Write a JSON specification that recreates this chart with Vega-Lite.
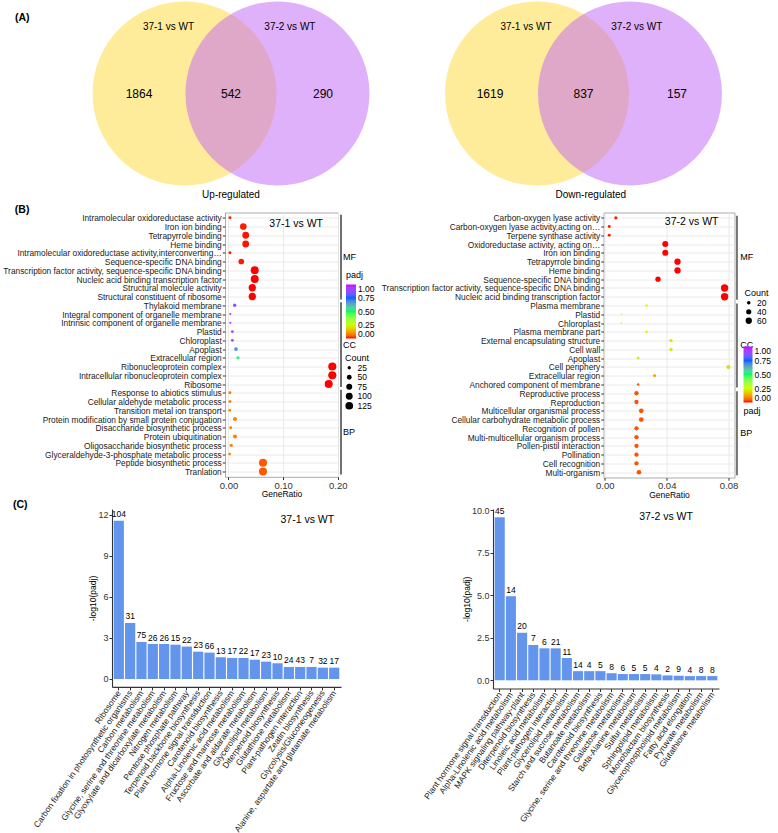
{
  "$schema": "https://vega.github.io/schema/vega-lite/v6.json",
  "padding": 0,
  "spacing": 0.5,
  "background": "white",
  "config": {
    "font": "Liberation Sans",
    "view": {"stroke": null},
    "axis": {"labelColor": "#333333", "titleColor": "#000000", "tickColor": "#333333", "titleFontWeight": "normal"},
    "legend": {"titleFontWeight": "normal", "labelColor": "#000000", "titleColor": "#000000"}
  },
  "resolve": {"scale": {"color": "independent", "size": "independent"}},
  "vconcat": [
    {
      "hconcat": [
        {
          "width": 407, "height": 202.2,
          "layer": [
            {
              "data": {"values": [{"set": "37-1 vs WT", "cx": -0.505}, {"set": "37-2 vs WT", "cx": 0.505}]},
              "mark": {"type": "point", "shape": "circle", "filled": true, "size": 33856, "opacity": 0.5},
              "encoding": {
                "x": {"field": "cx", "type": "quantitative", "scale": {"domain": [-2.511, 1.913], "nice": false, "zero": false}, "axis": null},
                "y": {"datum": 0, "type": "quantitative", "scale": {"domain": [-1.1815, 1.0163], "nice": false, "zero": false}, "axis": null},
                "color": {"field": "set", "type": "nominal", "scale": {"domain": ["37-1 vs WT", "37-2 vs WT"], "range": ["#FFD935", "#C063F7"]}, "legend": null}
              }
            },
            {
              "data": {"values": [{"set": "37-1 vs WT", "x": -0.68, "y": 0.72}, {"set": "37-2 vs WT", "x": 0.64, "y": 0.72}]},
              "mark": {"type": "text", "fontSize": 10, "color": "#000000"},
              "encoding": {"x": {"field": "x", "type": "quantitative"}, "y": {"field": "y", "type": "quantitative"}, "text": {"field": "set"}}
            },
            {
              "data": {"values": [{"region": "37-1 only", "count": 1864, "x": -1.0}, {"region": "both", "count": 542, "x": 0}, {"region": "37-2 only", "count": 290, "x": 1.0}]},
              "mark": {"type": "text", "fontSize": 12, "color": "#000000"},
              "encoding": {"x": {"field": "x", "type": "quantitative"}, "y": {"datum": 0, "type": "quantitative"}, "text": {"field": "count"}}
            },
            {
              "data": {"values": [{"caption": "Up-regulated"}]},
              "mark": {"type": "text", "fontSize": 10, "color": "#000000"},
              "encoding": {"x": {"datum": 0, "type": "quantitative"}, "y": {"datum": -1.103, "type": "quantitative"}, "text": {"field": "caption"}}
            },
            {
              "data": {"values": [{"panel": "(A)"}]},
              "mark": {"type": "text", "fontSize": 10.5, "fontWeight": "bold", "align": "left", "color": "#000000"},
              "encoding": {"x": {"datum": -2.348, "type": "quantitative"}, "y": {"datum": 0.821, "type": "quantitative"}, "text": {"field": "panel"}}
            }
          ]
        },
        {
          "width": 371, "height": 202.2,
          "layer": [
            {
              "data": {"values": [{"set": "37-1 vs WT", "cx": -0.505}, {"set": "37-2 vs WT", "cx": 0.505}]},
              "mark": {"type": "point", "shape": "circle", "filled": true, "size": 33856, "opacity": 0.5},
              "encoding": {
                "x": {"field": "cx", "type": "quantitative", "scale": {"domain": [-1.918, 2.114], "nice": false, "zero": false}, "axis": null},
                "y": {"datum": 0, "type": "quantitative", "scale": {"domain": [-1.1815, 1.0163], "nice": false, "zero": false}, "axis": null},
                "color": {"field": "set", "type": "nominal", "scale": {"domain": ["37-1 vs WT", "37-2 vs WT"], "range": ["#FFD935", "#C063F7"]}, "legend": null}
              }
            },
            {
              "data": {"values": [{"set": "37-1 vs WT", "x": -0.625, "y": 0.72}, {"set": "37-2 vs WT", "x": 0.58, "y": 0.72}]},
              "mark": {"type": "text", "fontSize": 10, "color": "#000000"},
              "encoding": {"x": {"field": "x", "type": "quantitative"}, "y": {"field": "y", "type": "quantitative"}, "text": {"field": "set"}}
            },
            {
              "data": {"values": [{"region": "37-1 only", "count": 1619, "x": -1.016}, {"region": "both", "count": 837, "x": 0}, {"region": "37-2 only", "count": 157, "x": 1.016}]},
              "mark": {"type": "text", "fontSize": 12, "color": "#000000"},
              "encoding": {"x": {"field": "x", "type": "quantitative"}, "y": {"datum": 0, "type": "quantitative"}, "text": {"field": "count"}}
            },
            {
              "data": {"values": [{"caption": "Down-regulated"}]},
              "mark": {"type": "text", "fontSize": 10, "color": "#000000"},
              "encoding": {"x": {"datum": 0.08, "type": "quantitative"}, "y": {"datum": -1.103, "type": "quantitative"}, "text": {"field": "caption"}}
            }
          ]
        }
      ],
      "spacing": 0,
      "resolve": {"scale": {"color": "independent"}}
    },
    {
      "hconcat": [
        {
          "hconcat": [
            {"width": 1, "height": 1, "data": {"values": []}, "mark": "text", "encoding": {}},
            {
              "width": 113, "height": 264.3,
              "view": {"stroke": "#AAAAAA"},
              "layer": [
                {
                  "data": {"values": [
                    {"term": "Intramolecular oxidoreductase activity", "ratio": 0.0027, "padj": 0.01, "count": 21, "category": "MF"},
                    {"term": "Iron ion binding", "ratio": 0.0271, "padj": 0.005, "count": 95, "category": "MF"},
                    {"term": "Tetrapyrrole binding", "ratio": 0.0315, "padj": 0.003, "count": 97, "category": "MF"},
                    {"term": "Heme binding", "ratio": 0.0315, "padj": 0.003, "count": 97, "category": "MF"},
                    {"term": "Intramolecular oxidoreductase activity,interconverting…", "ratio": 0.0027, "padj": 0.01, "count": 21, "category": "MF"},
                    {"term": "Sequence-specific DNA binding", "ratio": 0.0234, "padj": 0.005, "count": 70, "category": "MF"},
                    {"term": "Transcription factor activity, sequence-specific DNA binding", "ratio": 0.048, "padj": 0.0, "count": 135, "category": "MF"},
                    {"term": "Nucleic acid binding transcription factor", "ratio": 0.048, "padj": 0.0, "count": 135, "category": "MF"},
                    {"term": "Structural molecule activity", "ratio": 0.0436, "padj": 0.0, "count": 113, "category": "MF"},
                    {"term": "Structural constituent of ribosome", "ratio": 0.0436, "padj": 0.0, "count": 113, "category": "MF"},
                    {"term": "Thylakoid membrane", "ratio": 0.0113, "padj": 0.88, "count": 25, "category": "CC"},
                    {"term": "Integral component of organelle membrane", "ratio": 0.0033, "padj": 0.96, "count": 11, "category": "CC"},
                    {"term": "Intrinsic component of organelle membrane", "ratio": 0.0033, "padj": 0.96, "count": 11, "category": "CC"},
                    {"term": "Plastid", "ratio": 0.007, "padj": 0.94, "count": 18, "category": "CC"},
                    {"term": "Chloroplast", "ratio": 0.007, "padj": 0.94, "count": 18, "category": "CC"},
                    {"term": "Apoplast", "ratio": 0.0137, "padj": 0.68, "count": 31, "category": "CC"},
                    {"term": "Extracellular region", "ratio": 0.0174, "padj": 0.52, "count": 25, "category": "CC"},
                    {"term": "Ribonucleoprotein complex", "ratio": 0.19, "padj": 0.0, "count": 140, "category": "CC"},
                    {"term": "Intracellular ribonucleoprotein complex", "ratio": 0.19, "padj": 0.0, "count": 140, "category": "CC"},
                    {"term": "Ribosome", "ratio": 0.1834, "padj": 0.0, "count": 137, "category": "CC"},
                    {"term": "Response to abiotics stimulus", "ratio": 0.0027, "padj": 0.085, "count": 21, "category": "BP"},
                    {"term": "Cellular aldehyde metabolic process", "ratio": 0.0027, "padj": 0.085, "count": 21, "category": "BP"},
                    {"term": "Transition metal ion transport", "ratio": 0.0022, "padj": 0.085, "count": 18, "category": "BP"},
                    {"term": "Protein modification by small protein conjugation", "ratio": 0.0119, "padj": 0.085, "count": 36, "category": "BP"},
                    {"term": "Disaccharide biosynthetic process", "ratio": 0.004, "padj": 0.085, "count": 21, "category": "BP"},
                    {"term": "Protein ubiquitination", "ratio": 0.0119, "padj": 0.085, "count": 36, "category": "BP"},
                    {"term": "Oligosaccharide biosynthetic process", "ratio": 0.0051, "padj": 0.085, "count": 25, "category": "BP"},
                    {"term": "Glyceraldehyde-3-phosphate metabolic process", "ratio": 0.0022, "padj": 0.085, "count": 18, "category": "BP"},
                    {"term": "Peptide biosynthetic process", "ratio": 0.0631, "padj": 0.04, "count": 135, "category": "BP"},
                    {"term": "Tranlation", "ratio": 0.0631, "padj": 0.04, "count": 135, "category": "BP"}
                  ]},
                  "mark": {"type": "point", "shape": "circle", "filled": true, "opacity": 1},
                  "encoding": {
                    "x": {"field": "ratio", "type": "quantitative", "title": "GeneRatio",
                      "scale": {"domain": [-0.0064, 0.2004], "nice": false, "zero": false},
                      "axis": {"values": [0, 0.025, 0.05, 0.075, 0.1, 0.125, 0.15, 0.175, 0.2],
                        "labelExpr": "round(datum.value*40) % 2 == 0 ? format(datum.value, '.2f') : ''",
                        "labelFontSize": 9.5, "labelFlush": false, "labelOverlap": false, "labelPadding": 0.5, "tickSize": 2.75,
                        "tickOpacity": {"condition": {"test": "round(datum.value*40) % 2 == 0", "value": 1}, "value": 0},
                        "grid": true, "gridColor": "#E8E8E8",
                        "gridWidth": {"condition": {"test": "round(datum.value*40) % 2 == 0", "value": 0.9}, "value": 0.45},
                        "domain": false, "titleFontSize": 8.5, "titlePadding": 0}},
                    "y": {"field": "term", "type": "nominal",
                      "scale": {"type": "point", "padding": 0.6, "domain": ["Intramolecular oxidoreductase activity","Iron ion binding","Tetrapyrrole binding","Heme binding","Intramolecular oxidoreductase activity,interconverting…","Sequence-specific DNA binding","Transcription factor activity, sequence-specific DNA binding","Nucleic acid binding transcription factor","Structural molecule activity","Structural constituent of ribosome","Thylakoid membrane","Integral component of organelle membrane","Intrinsic component of organelle membrane","Plastid","Chloroplast","Apoplast","Extracellular region","Ribonucleoprotein complex","Intracellular ribonucleoprotein complex","Ribosome","Response to abiotics stimulus","Cellular aldehyde metabolic process","Transition metal ion transport","Protein modification by small protein conjugation","Disaccharide biosynthetic process","Protein ubiquitination","Oligosaccharide biosynthetic process","Glyceraldehyde-3-phosphate metabolic process","Peptide biosynthetic process","Tranlation"]},
                      "axis": {"title": null, "labelFontSize": 8.35, "labelColor": "#1A1A1A", "labelLimit": 400, "labelOverlap": false, "labelPadding": 1, "tickSize": 2.75, "grid": true, "gridColor": "#E8E8E8", "gridWidth": 0.9, "domain": false}},
                    "color": {"field": "padj", "type": "quantitative",
                      "scale": {"domain": [0, 1], "range": ["#FF0000", "#CCFF00", "#00FF66", "#0066FF", "#CC00FF"], "interpolate": "lab"},
                      "legend": {"orient": "none", "legendX": 121, "legendY": 58, "title": "padj", "direction": "vertical", "gradientLength": 54, "gradientThickness": 10, "values": [0, 0.25, 0.5, 0.75, 1], "format": ".2f", "labelFontSize": 8.5, "titleFontSize": 9, "titlePadding": 5, "labelOffset": 2, "labelOverlap": false, "gradientStrokeWidth": 0}},
                    "size": {"field": "count", "type": "quantitative",
                      "scale": {"domain": [25, 125], "range": [10.9, 59.3], "zero": false},
                      "legend": {"orient": "none", "legendX": 120, "legendY": 141, "title": "Count", "values": [25, 50, 75, 100, 125], "labelFontSize": 8.5, "titleFontSize": 9, "titlePadding": 1, "rowPadding": 0.5, "symbolType": "circle", "symbolStrokeWidth": 0,
                        "encode": {"symbols": {"update": {"fill": {"value": "black"}, "fillOpacity": {"value": 1}, "stroke": {"value": "transparent"}}}}}}
                  }
                },
                {
                  "data": {"values": [
                    {"category": "MF", "first": "Intramolecular oxidoreductase activity", "last": "Structural constituent of ribosome", "mid": "Intramolecular oxidoreductase activity,interconverting…"},
                    {"category": "CC", "first": "Thylakoid membrane", "last": "Ribosome", "mid": "Chloroplast"},
                    {"category": "BP", "first": "Response to abiotics stimulus", "last": "Tranlation", "mid": "Disaccharide biosynthetic process"}
                  ]},
                  "layer": [
                    {
                      "mark": {"type": "rule", "color": "#222222", "strokeWidth": 1.3, "yOffset": -3, "y2Offset": 3},
                      "encoding": {"x": {"datum": 0.2059, "type": "quantitative"}, "y": {"field": "first", "type": "nominal"}, "y2": {"field": "last"}}
                    },
                    {
                      "mark": {"type": "text", "align": "left", "baseline": "middle", "dy": 4.4, "fontSize": 9, "color": "#000000"},
                      "encoding": {"x": {"datum": 0.2096, "type": "quantitative"}, "y": {"field": "mid", "type": "nominal"}, "text": {"field": "category"}}
                    }
                  ]
                },
                {
                  "data": {"values": [{"label": "37-1 vs WT"}]},
                  "mark": {"type": "text", "align": "right", "baseline": "middle", "dy": -2.5, "fontSize": 10.5, "color": "#000000"},
                  "encoding": {"x": {"datum": 0.173, "type": "quantitative"}, "y": {"datum": "Iron ion binding", "type": "nominal"}, "text": {"field": "label"}}
                },
                {
                  "data": {"values": [{"panel": "(B)"}]},
                  "mark": {"type": "text", "align": "left", "baseline": "middle", "dy": -8, "fontSize": 10.5, "fontWeight": "bold", "color": "#000000"},
                  "encoding": {"x": {"datum": -0.391, "type": "quantitative"}, "y": {"datum": "Intramolecular oxidoreductase activity", "type": "nominal"}, "text": {"field": "panel"}}
                }
              ]
            }
          ],
          "spacing": 0,
          "resolve": {"scale": {"color": "independent", "size": "independent"}}
        },
        {
          "width": 131, "height": 265,
          "view": {"stroke": "#AAAAAA"},
          "layer": [
            {
              "data": {"values": [
                {"term": "Carbon-oxygen lyase activity", "ratio": 0.0072, "padj": 0.005, "count": 16, "category": "MF"},
                {"term": "Carbon-oxygen lyase activity,acting on…", "ratio": 0.0029, "padj": 0.005, "count": 13, "category": "MF"},
                {"term": "Terpene synthase activity", "ratio": 0.0029, "padj": 0.005, "count": 13, "category": "MF"},
                {"term": "Oxidoreductase activity, acting on…", "ratio": 0.0391, "padj": 0.0, "count": 54, "category": "MF"},
                {"term": "Iron ion binding", "ratio": 0.0391, "padj": 0.0, "count": 54, "category": "MF"},
                {"term": "Tetrapyrrole binding", "ratio": 0.047, "padj": 0.0, "count": 60, "category": "MF"},
                {"term": "Heme binding", "ratio": 0.047, "padj": 0.0, "count": 60, "category": "MF"},
                {"term": "Sequence-specific DNA binding", "ratio": 0.0344, "padj": 0.0, "count": 43, "category": "MF"},
                {"term": "Transcription factor activity, sequence-specific DNA binding", "ratio": 0.0774, "padj": 0.0, "count": 81, "category": "MF"},
                {"term": "Nucleic acid binding transcription factor", "ratio": 0.0774, "padj": 0.0, "count": 81, "category": "MF"},
                {"term": "Plasma membrane", "ratio": 0.027, "padj": 0.26, "count": 10, "category": "CC"},
                {"term": "Plastid", "ratio": 0.0108, "padj": 0.26, "count": 4, "category": "CC"},
                {"term": "Chloroplast", "ratio": 0.0108, "padj": 0.26, "count": 4, "category": "CC"},
                {"term": "Plasma membrane part", "ratio": 0.027, "padj": 0.26, "count": 10, "category": "CC"},
                {"term": "External encapsulating structure", "ratio": 0.0428, "padj": 0.21, "count": 16, "category": "CC"},
                {"term": "Cell wall", "ratio": 0.0428, "padj": 0.21, "count": 16, "category": "CC"},
                {"term": "Apoplast", "ratio": 0.0216, "padj": 0.23, "count": 10, "category": "CC"},
                {"term": "Cell periphery", "ratio": 0.0799, "padj": 0.2, "count": 24, "category": "CC"},
                {"term": "Extracellular region", "ratio": 0.0322, "padj": 0.12, "count": 13, "category": "CC"},
                {"term": "Anchored component of membrane", "ratio": 0.0216, "padj": 0.045, "count": 10, "category": "CC"},
                {"term": "Reproductive process", "ratio": 0.0205, "padj": 0.035, "count": 28, "category": "BP"},
                {"term": "Reproduction", "ratio": 0.0205, "padj": 0.035, "count": 28, "category": "BP"},
                {"term": "Multicellular organismal process", "ratio": 0.0236, "padj": 0.035, "count": 33, "category": "BP"},
                {"term": "Cellular carbohydrate metabolic process", "ratio": 0.0236, "padj": 0.035, "count": 33, "category": "BP"},
                {"term": "Recognition of pollen", "ratio": 0.0205, "padj": 0.035, "count": 28, "category": "BP"},
                {"term": "Multi-multicellular organism process", "ratio": 0.0205, "padj": 0.035, "count": 28, "category": "BP"},
                {"term": "Pollen-pistil interaction", "ratio": 0.0205, "padj": 0.035, "count": 28, "category": "BP"},
                {"term": "Pollination", "ratio": 0.0205, "padj": 0.035, "count": 28, "category": "BP"},
                {"term": "Cell recognition", "ratio": 0.0205, "padj": 0.035, "count": 28, "category": "BP"},
                {"term": "Multi-organism", "ratio": 0.0221, "padj": 0.035, "count": 33, "category": "BP"}
              ]},
              "mark": {"type": "point", "shape": "circle", "filled": true, "opacity": 1},
              "encoding": {
                "x": {"field": "ratio", "type": "quantitative", "title": "GeneRatio",
                  "scale": {"domain": [-0.0008, 0.0838], "nice": false, "zero": false},
                  "axis": {"values": [0, 0.01, 0.02, 0.03, 0.04, 0.05, 0.06, 0.07, 0.08],
                    "labelExpr": "round(datum.value*100) % 2 == 0 ? format(datum.value, '.2f') : ''",
                    "labelFontSize": 9.5, "labelFlush": false, "labelOverlap": false, "labelPadding": 0.5, "tickSize": 2.75,
                    "tickOpacity": {"condition": {"test": "round(datum.value*100) % 2 == 0", "value": 1}, "value": 0},
                    "grid": true, "gridColor": "#E8E8E8",
                    "gridWidth": {"condition": {"test": "round(datum.value*100) % 2 == 0", "value": 0.9}, "value": 0.45},
                    "domain": false, "titleFontSize": 8.5, "titlePadding": 0}},
                "y": {"field": "term", "type": "nominal",
                  "scale": {"type": "point", "padding": 0.6, "domain": ["Carbon-oxygen lyase activity","Carbon-oxygen lyase activity,acting on…","Terpene synthase activity","Oxidoreductase activity, acting on…","Iron ion binding","Tetrapyrrole binding","Heme binding","Sequence-specific DNA binding","Transcription factor activity, sequence-specific DNA binding","Nucleic acid binding transcription factor","Plasma membrane","Plastid","Chloroplast","Plasma membrane part","External encapsulating structure","Cell wall","Apoplast","Cell periphery","Extracellular region","Anchored component of membrane","Reproductive process","Reproduction","Multicellular organismal process","Cellular carbohydrate metabolic process","Recognition of pollen","Multi-multicellular organism process","Pollen-pistil interaction","Pollination","Cell recognition","Multi-organism"]},
                  "axis": {"title": null, "labelFontSize": 8.35, "labelColor": "#1A1A1A", "labelLimit": 400, "labelOverlap": false, "labelPadding": 1, "tickSize": 2.75, "grid": true, "gridColor": "#E8E8E8", "gridWidth": 0.9, "domain": false}},
                "color": {"field": "padj", "type": "quantitative",
                  "scale": {"domain": [0, 1], "range": ["#FF0000", "#CCFF00", "#00FF66", "#0066FF", "#CC00FF"], "interpolate": "lab"},
                  "legend": {"orient": "none", "legendX": 140, "legendY": 134, "title": "padj", "titleOrient": "bottom", "direction": "vertical", "gradientLength": 56, "gradientThickness": 9, "values": [0, 0.25, 0.5, 0.75, 1], "format": ".2f", "labelFontSize": 8.5, "titleFontSize": 9, "titlePadding": 4, "labelOffset": 2, "labelOverlap": false, "gradientStrokeWidth": 0}},
                "size": {"field": "count", "type": "quantitative",
                  "scale": {"domain": [20, 60], "range": [13.4, 40], "zero": false},
                  "legend": {"orient": "none", "legendX": 141, "legendY": 76, "title": "Count", "values": [20, 40, 60], "labelFontSize": 8.5, "titleFontSize": 9, "titlePadding": 1, "rowPadding": 0, "symbolType": "circle", "symbolStrokeWidth": 0,
                    "encode": {"symbols": {"update": {"fill": {"value": "black"}, "fillOpacity": {"value": 1}, "stroke": {"value": "transparent"}}}}}}
              }
            },
            {
              "data": {"values": [
                {"category": "MF", "first": "Carbon-oxygen lyase activity", "last": "Nucleic acid binding transcription factor", "mid": "Iron ion binding"},
                {"category": "CC", "first": "Plasma membrane", "last": "Anchored component of membrane", "mid": "External encapsulating structure"},
                {"category": "BP", "first": "Reproductive process", "last": "Multi-organism", "mid": "Recognition of pollen"}
              ]},
              "layer": [
                {
                  "mark": {"type": "rule", "color": "#333333", "strokeWidth": 1.3, "yOffset": -2, "y2Offset": 3},
                  "encoding": {"x": {"datum": 0.0854, "type": "quantitative"}, "y": {"field": "first", "type": "nominal"}, "y2": {"field": "last"}}
                },
                {
                  "mark": {"type": "text", "align": "left", "baseline": "middle", "dy": 4.4, "fontSize": 9, "color": "#000000"},
                  "encoding": {"x": {"datum": 0.0875, "type": "quantitative"}, "y": {"field": "mid", "type": "nominal"}, "text": {"field": "category"}}
                }
              ]
            },
            {
              "data": {"values": [{"label": "37-2 vs WT"}]},
              "mark": {"type": "text", "align": "right", "baseline": "middle", "dy": -4.5, "fontSize": 10.5, "color": "#000000"},
              "encoding": {"x": {"datum": 0.0735, "type": "quantitative"}, "y": {"datum": "Carbon-oxygen lyase activity,acting on…", "type": "nominal"}, "text": {"field": "label"}}
            }
          ]
        }
      ],
      "spacing": 3.5,
      "resolve": {"scale": {"color": "independent", "size": "independent"}}
    },
    {
      "hconcat": [
        {
          "hconcat": [
            {
              "width": 31, "height": 1,
              "data": {"values": [{"panel": "(C)"}]},
              "mark": {"type": "text", "align": "left", "baseline": "middle", "dx": -2.5, "dy": -4.5, "fontSize": 10.5, "fontWeight": "bold", "color": "#000000"},
              "encoding": {"text": {"field": "panel"}}
            },
            {
              "width": 229, "height": 177.9,
              "data": {"values": [
                {"term": "Ribosome", "logp": 11.58, "count": 104},
                {"term": "Carbon fixation in photosynthetic organisms", "logp": 4.10, "count": 31},
                {"term": "Carbon metabolism", "logp": 2.71, "count": 75},
                {"term": "Glycine, serine and threonine metabolism", "logp": 2.56, "count": 26},
                {"term": "Glyoxylate and dicarboxylate metabolism", "logp": 2.56, "count": 26},
                {"term": "Nitrogen metabolism", "logp": 2.51, "count": 15},
                {"term": "Pentose phosphate pathway", "logp": 2.37, "count": 22},
                {"term": "Terpenoid backbone biosynthesis", "logp": 2.00, "count": 23},
                {"term": "Plant hormone signal transduction", "logp": 1.93, "count": 66},
                {"term": "Carotenoid biosynthesis", "logp": 1.59, "count": 13},
                {"term": "Alpha-Linolenic acid metabolism", "logp": 1.54, "count": 17},
                {"term": "Fructose and mannose metabolism", "logp": 1.54, "count": 22},
                {"term": "Ascorbate and aldarate metabolism", "logp": 1.41, "count": 17},
                {"term": "Glycerolipid metabolism", "logp": 1.27, "count": 23},
                {"term": "Diterpenoid biosynthesis", "logp": 1.15, "count": 10},
                {"term": "Glutathione metabolism", "logp": 0.88, "count": 24},
                {"term": "Plant-pathogen interaction", "logp": 0.88, "count": 43},
                {"term": "Zeatin biosynthesis", "logp": 0.88, "count": 7},
                {"term": "Glycolysis/Gluconeogenesis", "logp": 0.83, "count": 32},
                {"term": "Alanine, aspartate and glutamate metabolism", "logp": 0.83, "count": 17}
              ]},
              "encoding": {
                "x": {"field": "term", "type": "nominal", "sort": null,
                  "scale": {"paddingInner": 0.1, "paddingOuter": 0.15, "domain": ["Ribosome","Carbon fixation in photosynthetic organisms","Carbon metabolism","Glycine, serine and threonine metabolism","Glyoxylate and dicarboxylate metabolism","Nitrogen metabolism","Pentose phosphate pathway","Terpenoid backbone biosynthesis","Plant hormone signal transduction","Carotenoid biosynthesis","Alpha-Linolenic acid metabolism","Fructose and mannose metabolism","Ascorbate and aldarate metabolism","Glycerolipid metabolism","Diterpenoid biosynthesis","Glutathione metabolism","Plant-pathogen interaction","Zeatin biosynthesis","Glycolysis/Gluconeogenesis","Alanine, aspartate and glutamate metabolism"]},
                  "axis": {"title": null, "labelAngle": -55, "labelAlign": "right", "labelBaseline": "middle", "labelFontSize": 8.5, "labelLimit": 400, "labelOverlap": false, "labelPadding": 1, "tickSize": 3, "domainColor": "#333333", "domainWidth": 1.1, "labelColor": "#222222"}}
              },
              "layer": [
                {
                  "mark": {"type": "bar", "color": "#6495ED"},
                  "encoding": {
                    "y": {"field": "logp", "type": "quantitative", "scale": {"domain": [-0.579, 12.438], "nice": false, "zero": false},
                      "axis": {"title": "-log10(padj)", "values": [0, 3, 6, 9, 12], "grid": false, "labelFontSize": 9, "labelPadding": 1, "tickSize": 3, "titleFontSize": 8.5, "titlePadding": 0, "domainColor": "#333333", "domainWidth": 1.1}},
                    "y2": {"datum": 0}
                  }
                },
                {
                  "mark": {"type": "text", "baseline": "bottom", "dy": -1.5, "fontSize": 8.5, "color": "#000000"},
                  "encoding": {"y": {"field": "logp", "type": "quantitative"}, "text": {"field": "count"}}
                },
                {
                  "data": {"values": [{"label": "37-1 vs WT"}]},
                  "mark": {"type": "text", "align": "right", "baseline": "middle", "fontSize": 10.5, "color": "#000000"},
                  "encoding": {"x": {"datum": "Alanine, aspartate and glutamate metabolism", "type": "nominal"}, "y": {"datum": 11.65, "type": "quantitative"}, "text": {"field": "label"}}
                }
              ]
            }
          ],
          "spacing": 0
        },
        {
          "width": 226, "height": 179.5,
          "data": {"values": [
            {"term": "Plant hormone signal transduction", "logp": 9.58, "count": 45},
            {"term": "Alpha-Linolenic acid metabolism", "logp": 4.94, "count": 14},
            {"term": "MAPK signaling pathway-plant", "logp": 2.79, "count": 20},
            {"term": "Diterpenoid biosynthesis", "logp": 2.08, "count": 7},
            {"term": "Linoleic acid metabolism", "logp": 1.88, "count": 6},
            {"term": "Plant-pathogen interaction", "logp": 1.88, "count": 21},
            {"term": "Glycerolipid metabolism", "logp": 1.31, "count": 11},
            {"term": "Starch and sucrose metabolism", "logp": 0.54, "count": 14},
            {"term": "Butanoate metabolism", "logp": 0.54, "count": 4},
            {"term": "Carotenoid biosynthesis", "logp": 0.54, "count": 5},
            {"term": "Glycine, serine and threonine metabolism", "logp": 0.42, "count": 8},
            {"term": "Galactose metabolism", "logp": 0.37, "count": 6},
            {"term": "Beta-Alanine metabolism", "logp": 0.37, "count": 5},
            {"term": "Sulfur metabolism", "logp": 0.37, "count": 5},
            {"term": "Sphingolipid metabolism", "logp": 0.35, "count": 4},
            {"term": "Monobactam biosynthesis", "logp": 0.29, "count": 2},
            {"term": "Glycerophospholipid metabolism", "logp": 0.27, "count": 9},
            {"term": "Fatty acid elongation", "logp": 0.25, "count": 4},
            {"term": "Pyruvate metabolism", "logp": 0.25, "count": 8},
            {"term": "Glutathione metabolism", "logp": 0.25, "count": 8}
          ]},
          "encoding": {
            "x": {"field": "term", "type": "nominal", "sort": null,
              "scale": {"paddingInner": 0.1, "paddingOuter": 0.15, "domain": ["Plant hormone signal transduction","Alpha-Linolenic acid metabolism","MAPK signaling pathway-plant","Diterpenoid biosynthesis","Linoleic acid metabolism","Plant-pathogen interaction","Glycerolipid metabolism","Starch and sucrose metabolism","Butanoate metabolism","Carotenoid biosynthesis","Glycine, serine and threonine metabolism","Galactose metabolism","Beta-Alanine metabolism","Sulfur metabolism","Sphingolipid metabolism","Monobactam biosynthesis","Glycerophospholipid metabolism","Fatty acid elongation","Pyruvate metabolism","Glutathione metabolism"]},
              "axis": {"title": null, "labelAngle": -55, "labelAlign": "right", "labelBaseline": "middle", "labelFontSize": 8.5, "labelLimit": 400, "labelOverlap": false, "labelPadding": 1, "tickSize": 3, "domainColor": "#333333", "domainWidth": 1.1, "labelColor": "#222222"}}
          },
          "layer": [
            {
              "mark": {"type": "bar", "color": "#6495ED"},
              "encoding": {
                "y": {"field": "logp", "type": "quantitative", "scale": {"domain": [-0.479, 10.06], "nice": false, "zero": false},
                  "axis": {"title": "-log10(padj)", "values": [0, 2.5, 5, 7.5, 10], "format": ".1f", "grid": false, "labelFontSize": 9, "labelPadding": 1, "tickSize": 3, "titleFontSize": 8.5, "titlePadding": 0, "domainColor": "#333333", "domainWidth": 1.1}},
                "y2": {"datum": 0}
              }
            },
            {
              "mark": {"type": "text", "baseline": "bottom", "dy": -1.5, "fontSize": 8.5, "color": "#000000"},
              "encoding": {"y": {"field": "logp", "type": "quantitative"}, "text": {"field": "count"}}
            },
            {
              "data": {"values": [{"label": "37-2 vs WT"}]},
              "mark": {"type": "text", "align": "right", "baseline": "middle", "dx": 3, "fontSize": 10.5, "color": "#000000"},
              "encoding": {"x": {"datum": "Fatty acid elongation", "type": "nominal"}, "y": {"datum": 9.58, "type": "quantitative"}, "text": {"field": "label"}}
            }
          ]
        }
      ],
      "spacing": 81
    }
  ]
}
